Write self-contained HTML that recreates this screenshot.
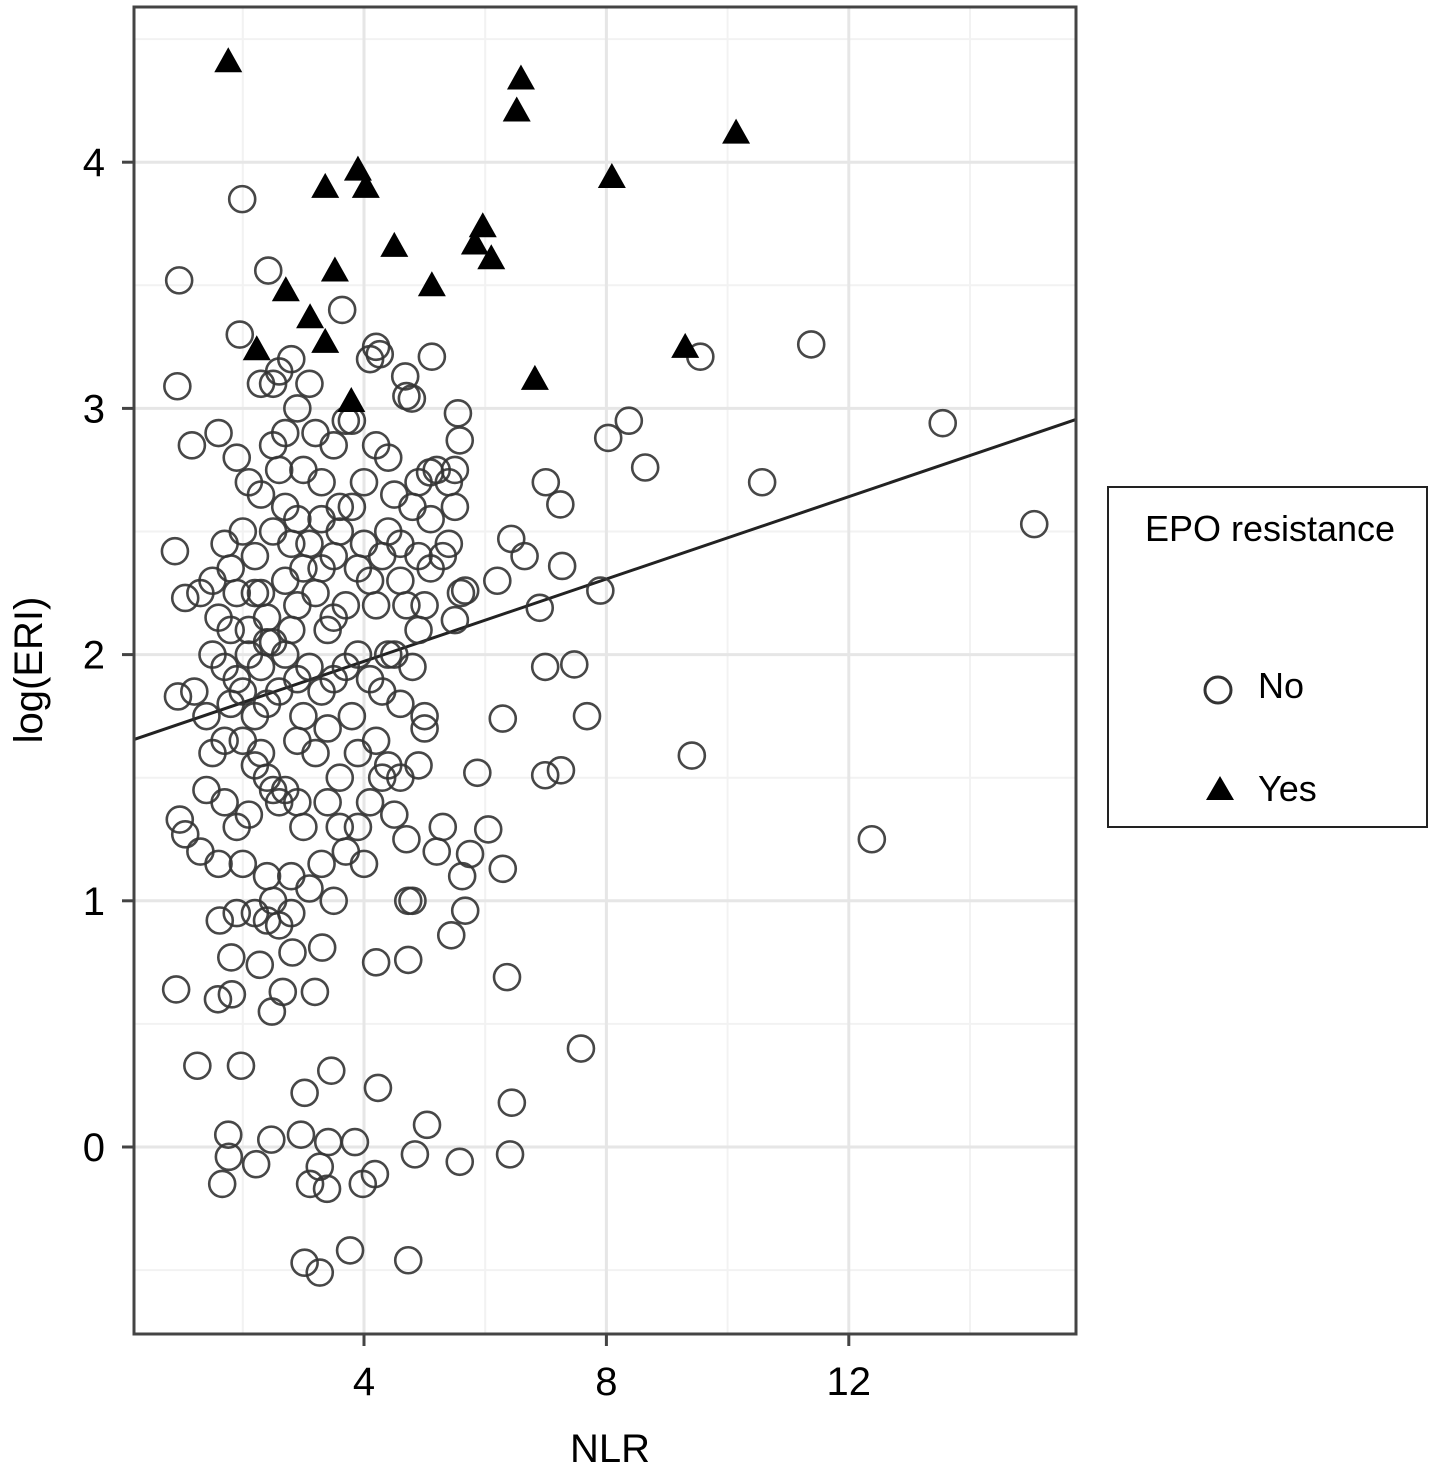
<!DOCTYPE html>
<html><head><meta charset="utf-8"><style>
body{margin:0;background:#fff;}
svg{display:block;font-family:"Liberation Sans",sans-serif;}
</style></head><body>
<svg id="chart" width="1429" height="1475" xmlns="http://www.w3.org/2000/svg">
<g id="grid"></g>
<line id="fit" stroke="#222" stroke-width="3"/>
<g id="pts"></g>
<rect x="134" y="7" width="942" height="1327" fill="none" stroke="#444" stroke-width="3"/>
<g id="axes"></g>
<text x="610" y="1462" font-size="40" text-anchor="middle">NLR</text>
<text transform="translate(42,670) rotate(-90)" font-size="40" text-anchor="middle">log(ERI)</text>
<g>
<rect x="1108" y="487" width="319" height="340" fill="#fff" stroke="#222" stroke-width="2"/>
<text x="1270" y="541" font-size="36" text-anchor="middle">EPO resistance</text>
<circle cx="1218" cy="690" r="13" fill="none" stroke="#333" stroke-width="3"/>
<text x="1258" y="698" font-size="36">No</text>
<polygon points="1220,776 1234,800 1206,800" fill="#000"/>
<text x="1258" y="801" font-size="36">Yes</text>
</g>
</svg>
<script>
const xTicks=[4,8,12];
const xMinor=[2,6,10,14];
const yTicks=[0,1,2,3,4];
const yMinor=[-0.5,0.5,1.5,2.5,3.5,4.5];
const fitLine=[[0.19,1.654],[15.75,2.955]];
const yesPts=[[1.76,4.41],[6.59,4.34],[6.52,4.21],[10.14,4.12],[8.09,3.94],[3.36,3.90],[3.90,3.97],[4.03,3.90],[4.50,3.66],[5.96,3.74],[5.83,3.67],[6.10,3.61],[3.52,3.56],[5.12,3.50],[2.71,3.48],[3.11,3.37],[2.23,3.24],[3.36,3.27],[9.30,3.25],[6.82,3.12],[3.79,3.03]];
const noPts=[[15.06,2.53],[13.55,2.94],[11.38,3.26],[12.38,1.25],[9.55,3.21],[9.41,1.59],[10.57,2.70],[8.64,2.76],[8.37,2.95],[8.03,2.88],[7.90,2.26],[7.58,0.40],[7.68,1.75],[7.47,1.96],[6.99,1.95],[7.27,2.36],[7.24,2.61],[7.00,2.70],[6.90,2.19],[6.99,1.51],[7.25,1.53],[6.29,1.74],[6.43,2.47],[6.65,2.40],[6.20,2.30],[6.36,0.69],[6.44,0.18],[6.41,-0.03],[6.29,1.13],[6.05,1.29],[5.87,1.52],[5.75,1.19],[5.62,1.10],[5.67,0.96],[5.44,0.86],[5.58,-0.06],[5.04,0.09],[4.84,-0.03],[4.73,-0.46],[4.73,1.00],[4.73,0.76],[4.23,0.24],[4.20,0.75],[4.18,-0.11],[3.98,-0.15],[3.77,-0.42],[3.85,0.02],[3.46,0.31],[3.41,0.02],[3.27,-0.51],[3.02,-0.47],[3.39,-0.17],[3.11,-0.15],[3.27,-0.08],[3.02,0.22],[2.96,0.05],[3.19,0.63],[3.31,0.81],[2.47,0.03],[2.22,-0.07],[1.76,0.05],[1.77,-0.04],[1.66,-0.15],[1.97,0.33],[1.25,0.33],[0.90,0.64],[1.59,0.60],[1.82,0.62],[2.48,0.55],[2.66,0.63],[1.81,0.77],[2.28,0.74],[2.82,0.79],[1.62,0.92],
[0.95,3.52],[0.92,3.09],[1.16,2.85],[0.88,2.42],[1.05,2.23],[0.93,1.83],[0.96,1.33],[1.05,1.27],[1.99,3.85],[2.42,3.56],[1.95,3.30],[4.26,3.22],[5.12,3.21],[5.55,2.98],[5.58,2.87],[3.64,3.40],[4.68,3.13],[4.79,3.04],[5.50,2.75],[5.09,2.74],[5.67,2.26],[5.50,2.14],
[1.6,2.9],[1.9,2.8],[2.1,2.7],[2.3,2.65],[2.0,2.5],[1.7,2.45],[1.8,2.35],[2.2,2.4],[2.5,2.5],[2.7,2.6],[2.9,2.55],[3.1,2.45],[3.3,2.35],[3.6,2.5],[3.8,2.6],[4.0,2.45],[4.3,2.4],[4.6,2.3],[4.9,2.4],[5.1,2.35],[5.4,2.45],[5.6,2.25],
[1.5,2.0],[1.7,1.95],[1.9,1.9],[2.1,2.0],[2.3,1.95],[2.5,2.05],[2.7,2.0],[2.9,1.9],[3.1,1.95],[3.3,1.85],[3.5,1.9],[3.7,1.95],[3.9,2.0],[4.1,1.9],[4.3,1.85],[4.5,2.0],[4.8,1.95],[2.6,1.85],[2.4,1.8],[2.2,1.75],[2.0,1.85],[1.8,1.8],[1.4,1.75],[1.2,1.85],[3.0,1.75],[3.4,1.7],[3.8,1.75],[4.2,1.65],[4.6,1.8],[5.0,1.75],
[2.3,1.6],[2.4,1.5],[2.5,1.45],[2.6,1.4],[2.2,1.55],[2.7,1.45],[2.1,1.35],[1.9,1.3],[1.7,1.4],[1.4,1.45],[1.3,1.2],[1.6,1.15],[2.0,1.15],[2.4,1.1],[2.8,1.1],[3.1,1.05],[3.5,1.0],[3.3,1.15],[3.7,1.2],[3.9,1.3],[4.1,1.4],[4.3,1.5],[4.5,1.35],[4.9,1.55],[4.7,1.25],[5.0,1.7],
[2.2,0.95],[2.4,0.92],[2.6,0.9],[2.8,0.95],[2.5,1.0],[1.9,0.95],
[2.3,3.1],[2.5,3.1],[2.8,3.2],[2.6,3.15],[3.1,3.1],[2.9,3.0],[2.7,2.9],[2.5,2.85],[3.2,2.9],[3.5,2.85],[3.8,2.95],[4.2,2.85],[4.4,2.8],[3.0,2.75],[3.3,2.7],[2.6,2.75],[4.0,2.7],[4.5,2.65],[4.8,2.6],[5.1,2.55],[3.6,2.6],
[1.3,2.25],[1.5,2.3],[2.7,2.3],[2.9,2.2],[3.2,2.25],[3.5,2.15],[3.7,2.2],[4.2,2.2],[4.7,2.2],[5.0,2.2],[3.4,2.1],[2.8,2.1],[2.4,2.15],[1.9,2.25],
[1.6,2.15],[2.2,2.25],[3.9,1.6],[3.6,1.5],[3.2,1.6],[2.9,1.65],[4.4,1.55],[5.3,1.3],[5.2,1.2],[4.8,1.0],[3.4,1.4],[3.0,1.3],[2.9,1.4],[3.6,1.3],[4.0,1.15],[4.6,1.5],[4.9,2.1],[4.4,2.0],[5.5,2.6],[5.4,2.7],[4.9,2.7],[5.2,2.75],[4.7,3.05],[4.1,3.2],[4.2,3.25],[3.7,2.95],[2.4,2.05],[2.8,2.45],[3.0,2.35],[2.3,2.25],[2.1,2.1],[1.8,2.1],[1.7,1.65],[1.5,1.6],[2.0,1.65],[4.1,2.3],[3.3,2.55],[3.5,2.4],[3.9,2.35],[4.4,2.5],[4.6,2.45],[5.3,2.4]];

const NS='http://www.w3.org/2000/svg';
const X0=134,X1=1076,Y0=7,Y1=1334;
function sx(v){return 121.6+v*60.6;}
function sy(v){return 1147-v*246.2;}
function mk(tag,attrs,parent){const e=document.createElementNS(NS,tag);for(const k in attrs)e.setAttribute(k,attrs[k]);parent.appendChild(e);return e;}
const grid=document.getElementById('grid'),axes=document.getElementById('axes'),pts=document.getElementById('pts');
xMinor.forEach(v=>{const l=mk('line',{x1:sx(v),x2:sx(v),y1:Y0,y2:Y1,stroke:'#f2f2f2','stroke-width':2},grid);

});
yMinor.forEach(v=>{const l=mk('line',{x1:X0,x2:X1,y1:sy(v),y2:sy(v),stroke:'#f2f2f2','stroke-width':2},grid);

});
xTicks.forEach(v=>{const l=mk('line',{x1:sx(v),x2:sx(v),y1:Y0,y2:Y1,stroke:'#e6e6e6','stroke-width':3},grid);


const t=mk('line',{x1:sx(v),x2:sx(v),y1:Y1,y2:Y1+12,stroke:'#444','stroke-width':3},axes);


const tx=mk('text',{x:sx(v),y:1395,'font-size':40,'text-anchor':'middle'},axes);tx.textContent=v;

});
yTicks.forEach(v=>{const l=mk('line',{x1:X0,x2:X1,y1:sy(v),y2:sy(v),stroke:'#e6e6e6','stroke-width':3},grid);


const t=mk('line',{x1:X0-12,x2:X0,y1:sy(v),y2:sy(v),stroke:'#444','stroke-width':3},axes);


const tx=mk('text',{x:105,y:sy(v)+14,'font-size':40,'text-anchor':'end'},axes);tx.textContent=v;

});
const fit=document.getElementById('fit');
fit.setAttribute('x1',sx(fitLine[0][0]));fit.setAttribute('y1',sy(fitLine[0][1]));
fit.setAttribute('x2',sx(fitLine[1][0]));fit.setAttribute('y2',sy(fitLine[1][1]));
noPts.forEach(p=>{const c=mk('circle',{cx:sx(p[0]),cy:sy(p[1]),r:13,fill:'none',stroke:'#333','stroke-width':2.6,'stroke-opacity':0.9},pts);

});
yesPts.forEach(p=>{const x=sx(p[0]),y=sy(p[1]);const g=mk('polygon',{points:`${x},${y-14} ${x+14},${y+11} ${x-14},${y+11}`,fill:'#000'},pts);

});
</script>
</body></html>
